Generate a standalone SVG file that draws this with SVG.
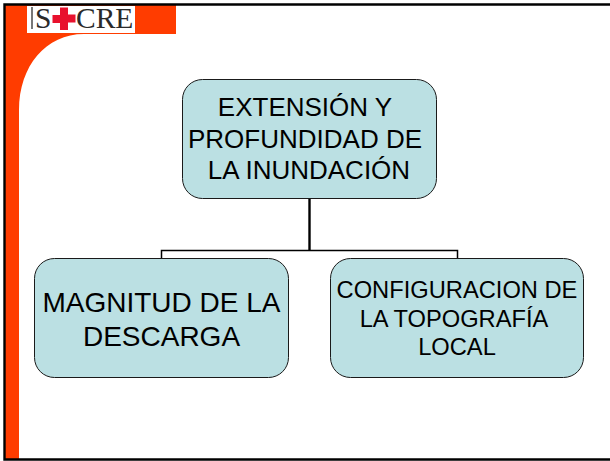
<svg xmlns="http://www.w3.org/2000/svg" width="610" height="461" viewBox="0 0 610 461">
<style>
.box{fill:#bbe0e3;stroke:#1a1a1a;stroke-width:1}
.t{font-family:"Liberation Sans",Arial,sans-serif;fill:#000;text-anchor:middle}
.c{fill:none;stroke:#000}
.logo{font-family:"Liberation Serif","Times New Roman",serif;font-size:29.500px;fill:#2a2a2a}
</style>
<rect width="610" height="461" fill="#fff"/>
<path id="banner" d="M5 5H176V34H84C46 34 19 66 19 110V459H5Z" fill="#ff3c00"/>
<path id="frame" d="M610 4.500H4.500V459.500H610" fill="none" stroke="#000" stroke-width="2.400"/>
<g id="logo">
<rect x="27" y="6" width="108" height="27" fill="#fff"/>
<rect x="31" y="7" width="2" height="22" fill="#777"/>
<text class="logo" x="35" y="27.500">S</text>
<path d="M60 7.500h8v7h7.500v8h-7.500V30h-8v-7h-7.500v-8h7.500Z" fill="#e8112d"/>
<text class="logo" x="76" y="27.500">CRE</text>
</g>
<g id="connectors">
<path class="c" stroke-width="2.400" d="M309.500 198V250"/>
<path class="c" stroke-width="1.500" d="M161.500 258V250.500H457.500V258"/>
</g>
<g id="node-extension">
<rect class="box" x="182.500" y="79.500" width="254" height="119" rx="20"/>
<text class="t" font-size="26"><tspan x="305" y="116">EXTENSIÓN Y</tspan><tspan x="305" y="148">PROFUNDIDAD DE</tspan><tspan x="309" y="179">LA INUNDACIÓN</tspan></text>
</g>
<g id="node-magnitud">
<rect class="box" x="34.500" y="258.500" width="254" height="119" rx="20"/>
<text class="t" font-size="28"><tspan x="161.500" y="312">MAGNITUD DE LA</tspan><tspan x="161.500" y="345.500">DESCARGA</tspan></text>
</g>
<g id="node-config">
<rect class="box" x="330.500" y="258.500" width="253" height="119" rx="20"/>
<text class="t" font-size="23.700"><tspan x="457" y="298">CONFIGURACION DE</tspan><tspan x="454" y="327">LA TOPOGRAFÍA</tspan><tspan x="457" y="355">LOCAL</tspan></text>
</g>
</svg>
